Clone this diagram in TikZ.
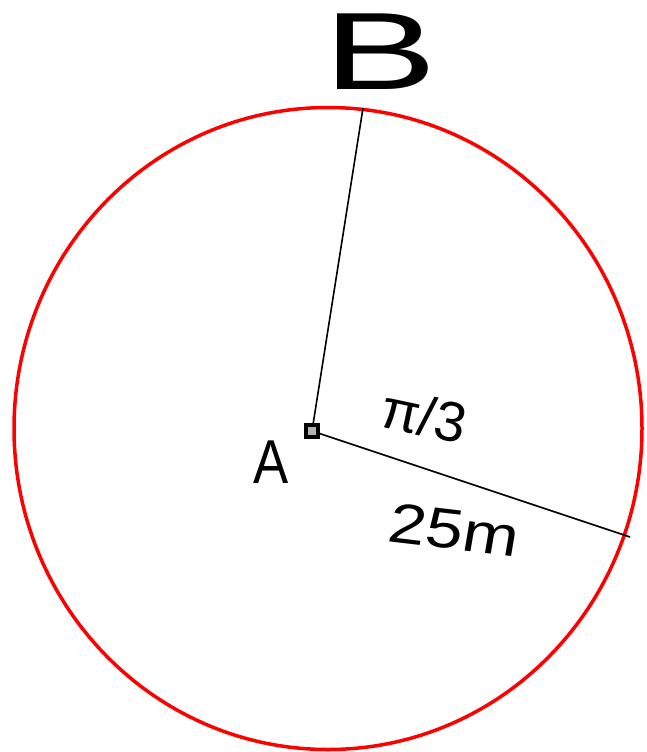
\documentclass[tikz,border=0pt]{standalone}
\usepackage{fontspec}
\setmainfont{Liberation Sans}
\begin{document}
\begin{tikzpicture}[x=1pt,y=-1pt,
  handline/.style={draw=black,line width=1.6pt},
  ring/.style={draw=red,line width=3.5pt},
  lbl/.style={inner sep=0pt,text=black}]
\useasboundingbox (0,0) rectangle (646,752);
\draw[ring] (328,428.5) ellipse [x radius=314, y radius=321];
\coordinate (Bend) at (363,108);
\coordinate (Rend) at (630,537);
\coordinate (Ac) at (312,431);
\draw[handline] (Ac) -- (Bend);
\draw[handline] (Ac) -- (Rend);
\node[draw=black,fill=gray!60,line width=3.5pt,minimum size=12pt,inner sep=0pt] (A) at (Ac) {};
\node[lbl,font=\fontsize{110}{110}\selectfont,xscale=1.55] (B) at (380,52) {B};
\node[lbl,font=\fontsize{62}{62}\selectfont,xscale=0.85] (Alab) at (271,462) {A};
\node[lbl,font=\fontsize{56}{56}\selectfont,rotate=-12] (ang) at (424,416) {π/3};
\node[lbl,font=\fontsize{56}{56}\selectfont,xscale=1.2,rotate=-8] (len) at (454,530) {25m};
\end{tikzpicture}
\end{document}
